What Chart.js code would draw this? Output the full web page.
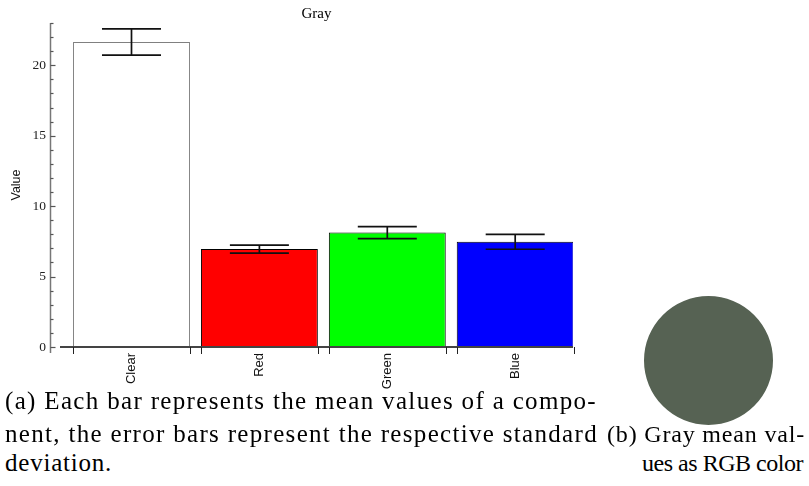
<!DOCTYPE html>
<html><head><meta charset="utf-8">
<script src="https://cdn.jsdelivr.net/npm/chart.js@4.4.1/dist/chart.umd.min.js"></script>
<style>
html,body{margin:0;padding:0;background:#fff;width:809px;height:486px;overflow:hidden;position:relative}
#bar{position:absolute;left:0;top:0}
#dot{position:absolute;left:644px;top:296px}
.cap{position:absolute;font-family:'Liberation Serif',serif;font-size:25px;line-height:25px;white-space:nowrap;color:#000}
.cap.b{font-size:24px;line-height:24px}
</style></head><body>
<canvas id="bar" width="640" height="400"></canvas>
<canvas id="dot" width="129" height="129"></canvas>
<div class="cap" data-w="592" style="left:5px;top:388px">(a) Each bar represents the mean values of a compo-</div>
<div class="cap" data-w="593" style="left:5px;top:421px">nent, the error bars represent the respective standard</div>
<div class="cap" data-w="107" style="left:5px;top:450px">deviation.</div>
<div class="cap b" data-w="198" style="left:607px;top:422px">(b) Gray mean val-</div>
<div class="cap b" data-w="161" style="left:642px;top:451px">ues as RGB color</div>
<script>
// ---- data ----
const categories = ['Clear', 'Red', 'Green', 'Blue'];
const means = [21.65, 6.95, 8.12, 7.47];
const stdDevs = [0.93, 0.28, 0.43, 0.53];
const barColors = ['#ffffff', '#ff0000', '#00ff00', '#0000ff'];
const barBorders = ['#808080', '#000000', '#000000', '#000000'];
const yTickValues = [0,1,2,3,4,5,6,7,8,9,10,11,12,13,14,15,16,17,18,19,20,21,22,23];
const yLabelEvery = 5;
const grayMeanRGB = [86, 98, 83];
const chartTitle = 'Gray';
const yAxisTitle = 'Value';

// fit caption lines to their measured widths
document.querySelectorAll('.cap').forEach(el => {
  const target = parseFloat(el.dataset.w);
  el.style.letterSpacing = '0px';
  const w = el.getBoundingClientRect().width;
  const n = el.textContent.length;
  el.style.letterSpacing = ((target - w) / n) + 'px';
});

const overlay = {
  id: 'overlay',
  afterDatasetsDraw(chart) {
    const {ctx, chartArea, scales: {x, y}} = chart;
    const meta = chart.getDatasetMeta(0);
    const y0 = y.getPixelForValue(0);
    ctx.save();
    // x axis line on top of the bars
    ctx.strokeStyle = '#444'; ctx.lineWidth = 2;
    ctx.beginPath(); ctx.moveTo(chartArea.left, y0); ctx.lineTo(chartArea.right, y0); ctx.stroke();
    // small ticks at bar edges below the axis
    ctx.strokeStyle = '#222'; ctx.lineWidth = 1;
    meta.data.forEach(bar => {
      [bar.x - bar.width / 2, bar.x + bar.width / 2].forEach(px => {
        const p = Math.round(px) + 0.5;
        ctx.beginPath(); ctx.moveTo(p, y0); ctx.lineTo(p, y0 + 7); ctx.stroke();
      });
    });
    // error bars
    ctx.strokeStyle = '#111'; ctx.lineWidth = 1.7;
    meta.data.forEach((bar, i) => {
      const cx = bar.x;
      const yt = y.getPixelForValue(means[i] + stdDevs[i]);
      const yb = y.getPixelForValue(means[i] - stdDevs[i]);
      ctx.beginPath();
      ctx.moveTo(cx, yt); ctx.lineTo(cx, yb);
      ctx.moveTo(cx - 29.5, yt); ctx.lineTo(cx + 29.5, yt);
      ctx.moveTo(cx - 29.5, yb); ctx.lineTo(cx + 29.5, yb);
      ctx.stroke();
    });
    // y axis line with major/minor ticks
    const ax = chartArea.left - 9.5;
    ctx.strokeStyle = '#777'; ctx.lineWidth = 1.5;
    ctx.beginPath(); ctx.moveTo(ax, y.top); ctx.lineTo(ax, y0 + 6); ctx.stroke();
    ctx.strokeStyle = '#555'; ctx.lineWidth = 1.2;
    y.ticks.forEach(t => {
      const py = Math.round(y.getPixelForValue(t.value)) + 0.5;
      const len = t.value % yLabelEvery === 0 ? 5 : 3;
      ctx.beginPath(); ctx.moveTo(ax, py); ctx.lineTo(ax + len, py); ctx.stroke();
    });
    ctx.restore();
  }
};

new Chart(document.getElementById('bar'), {
  type: 'bar',
  data: {
    datasets: [{
      data: categories.map((c, i) => ({x: i, y: means[i]})),
      backgroundColor: barColors,
      borderColor: barBorders,
      borderWidth: 1,
      categoryPercentage: 1,
      barPercentage: 0.914
    }]
  },
  options: {
    responsive: false,
    animation: false,
    events: [],
    layout: {padding: {left: 0, right: 67, top: 0, bottom: 0}},
    plugins: {
      legend: {display: false},
      tooltip: {enabled: false},
      title: {
        display: true, text: chartTitle, fullSize: false,
        color: '#000', font: {family: 'Liberation Serif', size: 15, weight: 'normal'},
        padding: {top: 5, bottom: 0}
      }
    },
    scales: {
      x: {
        type: 'linear', offset: false, min: -0.559, max: 3.452,
        grid: {display: false, drawTicks: false},
        border: {display: false},
        afterBuildTicks: s => { s.ticks = categories.map((c, i) => ({value: i})); },
        afterFit: s => { s.height = 53; },
        ticks: {
          autoSkip: false, minRotation: 90, maxRotation: 90, padding: 6,
          color: '#111', font: {family: 'Liberation Sans', size: 13},
          callback: v => categories[v]
        }
      },
      y: {
        type: 'linear', min: 0, max: 23,
        grid: {display: false, drawTicks: false},
        border: {display: false},
        afterBuildTicks: s => { s.ticks = yTickValues.map(v => ({value: v})); },
        afterFit: s => { s.width = 60; },
        ticks: {
          autoSkip: false, padding: 14, color: '#222',
          font: {family: 'Liberation Serif', size: 13.5},
          callback: v => (v % yLabelEvery === 0 ? String(v) : '')
        },
        title: {
          display: true, text: yAxisTitle, color: '#111',
          font: {family: 'Liberation Sans', size: 12.5},
          padding: {top: 9, bottom: 0}
        }
      }
    }
  },
  plugins: [overlay]
});

new Chart(document.getElementById('dot'), {
  type: 'pie',
  data: {datasets: [{data: [1], backgroundColor: `rgb(${grayMeanRGB.join(',')})`, borderWidth: 0}]},
  options: {
    responsive: false, animation: false, events: [],
    layout: {padding: 0},
    plugins: {legend: {display: false}, tooltip: {enabled: false}}
  }
});
</script>
</body></html>
